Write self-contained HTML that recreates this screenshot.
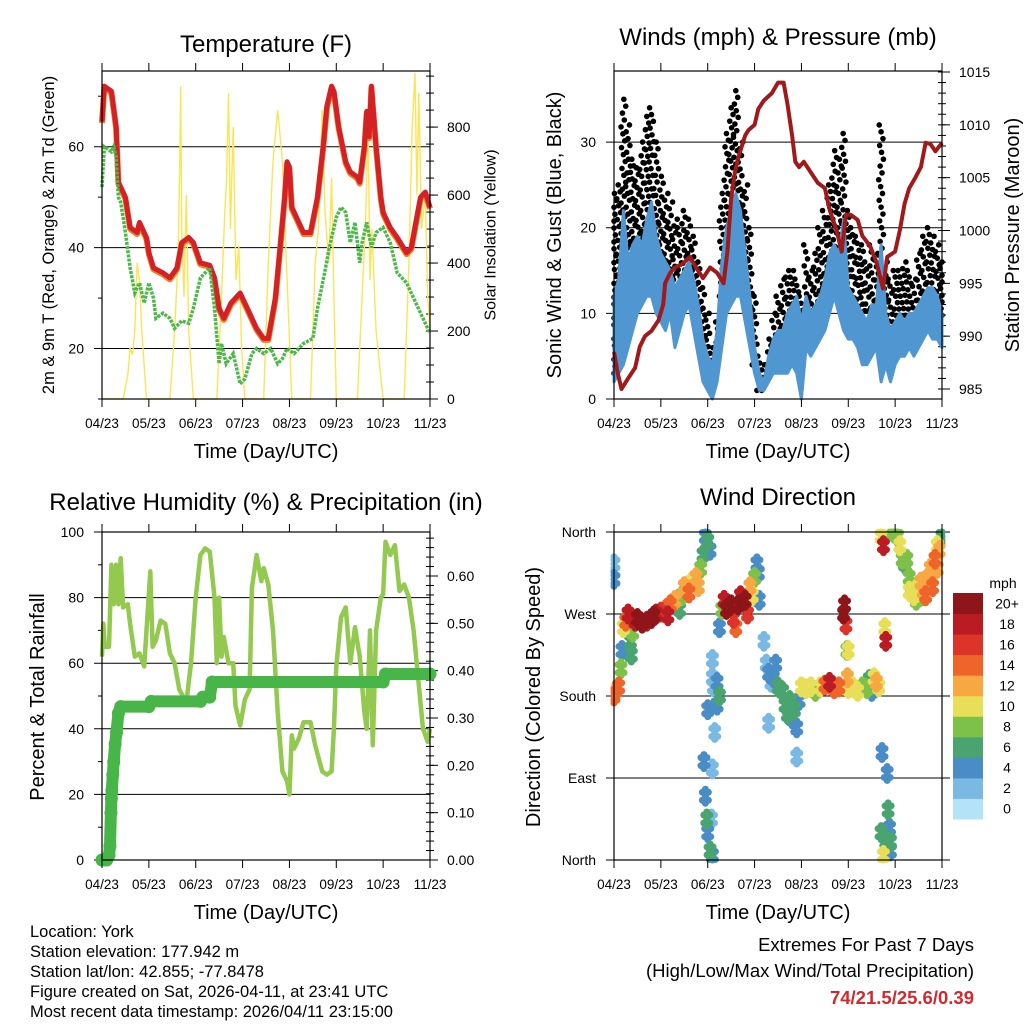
<!DOCTYPE html>
<html><head><meta charset="utf-8"><style>
html,body{margin:0;padding:0;background:#fff;}
svg{display:block;font-family:"Liberation Sans",sans-serif;}
</style></head><body>
<svg id="root" width="1024" height="1024" viewBox="0 0 1024 1024" xmlns="http://www.w3.org/2000/svg">
<rect width="1024" height="1024" fill="#fff"/>
<text x="266" y="52" font-size="24" text-anchor="middle">Temperature (F)</text>
<text x="778" y="45" font-size="24" text-anchor="middle">Winds (mph) &amp; Pressure (mb)</text>
<text x="266" y="510" font-size="24" text-anchor="middle">Relative Humidity (%) &amp; Precipitation (in)</text>
<text x="778" y="505" font-size="24" text-anchor="middle">Wind Direction</text>
<text transform="translate(49,235) rotate(-90)" font-size="16.5" text-anchor="middle" dominant-baseline="central">2m &amp; 9m T (Red, Orange) &amp; 2m Td (Green)</text>
<text transform="translate(491,235) rotate(-90)" font-size="16" text-anchor="middle" dominant-baseline="central">Solar Insolation (Yellow)</text>
<text transform="translate(555,235) rotate(-90)" font-size="20" text-anchor="middle" dominant-baseline="central">Sonic Wind &amp; Gust (Blue, Black)</text>
<text transform="translate(1013,235) rotate(-90)" font-size="20" text-anchor="middle" dominant-baseline="central">Station Pressure (Maroon)</text>
<text transform="translate(38,697) rotate(-90)" font-size="20" text-anchor="middle" dominant-baseline="central">Percent &amp; Total Rainfall</text>
<text transform="translate(534,697) rotate(-90)" font-size="20" text-anchor="middle" dominant-baseline="central">Direction (Colored By Speed)</text>
<g font-size="16.5">
<text x="30" y="937">Location: York</text>
<text x="30" y="957">Station elevation: 177.942 m</text>
<text x="30" y="977">Station lat/lon: 42.855; -77.8478</text>
<text x="30" y="997">Figure created on Sat, 2026-04-11, at 23:41 UTC</text>
<text x="30" y="1017">Most recent data timestamp: 2026/04/11 23:15:00</text>
</g>
<g font-size="18.5" text-anchor="end">
<text x="974" y="951">Extremes For Past 7 Days</text>
<text x="974" y="977">(High/Low/Max Wind/Total Precipitation)</text>
<text x="974" y="1004" fill="#d02a2f" font-weight="bold">74/21.5/25.6/0.39</text>
</g>
<g id="charts"></g>
</svg>
<script>
// ---------- DATA ----------
const monthLabels = ["04/23","05/23","06/23","07/23","08/23","09/23","10/23","11/23"];
const tempTicks = [20,40,60];
const solarTicks = [0,200,400,600,800];
const windTicks = [0,10,20,30];
const pressTicks = [985,990,995,1000,1005,1010,1015];
const rhTicks = [0,20,40,60,80,100];
const precipTicks = [0,0.1,0.2,0.3,0.4,0.5,0.6];
const dirTicks = ["North","East","South","West","North"];
const speedBins = ["0","2","4","6","8","10","12","14","16","18","20+"];
const speedColors = ["#b4e3f8","#7ab9e3","#4a8dc6","#49a470","#7dc14b","#e6df57","#f7a842","#ef6429","#dd3429","#bb1c23","#8e1519"];

const tempRed = [[0,65],[0.05,72],[0.2,71],[0.3,64],[0.35,53],[0.5,50],[0.6,44],[0.75,43],[0.8,45],[0.95,42],[1.0,39],[1.1,36],[1.3,35],[1.45,34],[1.6,36],[1.7,41],[1.85,42],[1.95,41],[2.1,37],[2.3,36.5],[2.4,34],[2.5,28],[2.6,26],[2.75,29],[2.95,31],[3.1,28],[3.3,24],[3.45,22],[3.55,22],[3.7,30],[3.8,40],[3.9,50],[3.95,57],[4.0,56],[4.05,48],[4.15,46],[4.3,43],[4.45,43],[4.6,50],[4.72,60],[4.8,68],[4.9,72],[4.95,71],[5.05,64],[5.2,57],[5.3,55],[5.45,54],[5.5,53],[5.6,60],[5.65,67],[5.7,62],[5.75,72],[5.85,60],[5.95,50],[6.0,47],[6.15,44],[6.3,42],[6.5,39],[6.6,40],[6.7,45],[6.8,50],[6.9,51],[7.0,48]];
const tempDew = [[0,52],[0.05,60],[0.2,59],[0.25,60],[0.3,58],[0.35,50],[0.4,49],[0.5,43],[0.6,36],[0.7,31],[0.8,33],[0.9,29],[1.0,33],[1.1,30],[1.15,26],[1.3,27],[1.45,26],[1.55,24],[1.7,25.5],[1.85,25],[1.95,28],[2.1,34],[2.2,35],[2.3,36],[2.4,28],[2.5,17],[2.55,21],[2.65,17],[2.8,19],[2.95,13],[3.05,14],[3.2,19],[3.3,20],[3.45,19],[3.6,20],[3.75,17],[3.85,18],[3.95,20],[4.1,19],[4.3,21],[4.5,22],[4.6,28],[4.75,35],[4.85,40],[5.0,46],[5.1,48],[5.2,47],[5.3,41],[5.4,45],[5.5,37],[5.55,41],[5.65,45],[5.75,40],[5.85,43],[6.0,44],[6.15,41],[6.3,35],[6.5,33],[6.7,29],[6.9,25],[7.0,23]];
const solar = [[0,0],[0.45,0],[0.55,70],[0.6,150],[0.65,130],[0.7,200],[0.75,400],[0.8,350],[0.85,200],[0.95,0],[1.45,0],[1.55,200],[1.62,400],[1.66,700],[1.68,920],[1.7,500],[1.75,300],[1.8,600],[1.85,200],[1.95,0],[2.45,0],[2.55,300],[2.62,550],[2.66,650],[2.7,900],[2.74,500],[2.8,800],[2.86,350],[2.92,450],[2.98,150],[3.05,0],[3.45,0],[3.55,400],[3.65,700],[3.75,850],[3.85,700],[3.95,350],[4.05,0],[4.45,0],[4.55,400],[4.62,500],[4.7,850],[4.76,550],[4.84,400],[4.9,650],[4.95,300],[5.0,0],[5.45,0],[5.55,300],[5.62,500],[5.68,800],[5.72,350],[5.76,500],[5.85,200],[6.0,0],[6.45,0],[6.55,400],[6.62,800],[6.68,960],[6.72,600],[6.76,900],[6.82,500],[6.9,600],[6.95,300],[7.0,200]];

const windDays = [0,0.1,0.2,0.3,0.4,0.5,0.6,0.7,0.8,0.9,1.0,1.1,1.2,1.3,1.4,1.5,1.6,1.7,1.8,1.9,2.0,2.1,2.2,2.3,2.4,2.5,2.6,2.7,2.8,2.9,3.0,3.1,3.2,3.3,3.4,3.5,3.6,3.7,3.8,3.9,4.0,4.1,4.2,4.3,4.4,4.5,4.6,4.7,4.8,4.9,5.0,5.1,5.2,5.3,5.4,5.5,5.6,5.7,5.8,5.9,6.0,6.1,6.2,6.3,6.4,6.5,6.6,6.7,6.8,6.9,7.0];
const windLo = [2,3,4,6,8,10,11,12,12,10,9,8,10,6,8,10,11,8,5,2,1,0,2,6,10,11,12,12,9,6,3,1,1,2,3,3,3,3,4,3,0,6,5,6,7,8,10,12,10,8,7,7,6,4,4,5,6,2,4,2,4,5,5,6,5,6,7,8,7,7,6];
const windHi = [12,14,22,16,18,19,18,21,23,19,17,16,15,13,14,15,16,14,11,7,5,4,8,16,20,22,24,22,17,12,6,3,2,5,7,8,8,10,11,12,9,12,10,11,12,14,17,18,17,21,13,12,11,10,9,11,11,18,10,8,9,10,9,10,10,11,12,13,13,12,10];
const gustLo = [3,8,14,16,18,17,18,19,19,16,14,13,12,10,11,12,13,11,8,5,3,3,5,12,17,20,22,19,14,10,4,1,1,4,5,6,7,8,8,8,3,9,8,9,11,13,15,17,16,14,12,11,10,8,7,9,10,8,9,5,9,9,9,9,9,10,11,12,12,11,9];
const gustHi = [24,25,35,32,28,27,30,33,34,30,26,24,23,21,20,22,21,19,16,13,10,6,9,24,31,34,36,30,25,20,12,5,4,7,10,12,14,15,15,14,12,18,15,17,20,22,25,29,28,31,22,20,19,18,16,18,17,32,16,14,15,15,16,15,14,17,19,20,19,18,16];
const pressDays = [0,0.08,0.16,0.3,0.45,0.55,0.66,0.8,0.95,1.05,1.09,1.2,1.3,1.45,1.62,1.75,1.9,2.05,2.2,2.34,2.42,2.5,2.58,2.66,2.8,2.87,3.0,3.08,3.2,3.37,3.5,3.62,3.7,3.8,3.87,3.95,4.05,4.2,4.35,4.5,4.6,4.75,4.86,4.95,5.05,5.2,5.3,5.47,5.6,5.74,5.83,6.0,6.1,6.2,6.3,6.43,6.55,6.65,6.75,6.86,7.0];
const pressVals = [988.5,986.5,985,986,987,989,990,990.5,991.5,993,995,996,996.5,996.8,997.5,996.5,995.5,996.5,996,995,998,1003,1005.5,1007,1009,1009.5,1010,1011.5,1012.3,1013,1014,1014,1012,1009,1006.5,1006,1006.5,1005.5,1004.5,1004,1002,1000,998,1001.5,1001.5,1001,999.5,998.5,997,994.5,997.5,998,1000,1002.5,1004,1005,1006,1008.3,1008.2,1007.5,1008.3];

const rh = [[0,62],[0.03,72],[0.06,65],[0.15,65],[0.2,90],[0.25,78],[0.3,90],[0.35,78],[0.4,92],[0.45,77],[0.55,78],[0.6,72],[0.7,62],[0.8,63],[0.9,59],[0.95,70],[1.03,88],[1.08,65],[1.15,67],[1.25,73],[1.35,72],[1.45,63],[1.55,60],[1.65,52],[1.8,48],[1.9,60],[2.0,80],[2.1,93],[2.2,95],[2.3,94],[2.4,80],[2.45,60],[2.5,80],[2.55,62],[2.6,68],[2.7,60],[2.8,60],[2.85,47],[2.95,41],[3.05,49],[3.15,52],[3.2,83],[3.25,88],[3.3,93],[3.4,85],[3.45,89],[3.55,84],[3.65,70],[3.75,45],[3.85,27],[3.95,24],[4.0,20],[4.05,38],[4.1,34],[4.2,37],[4.3,42],[4.45,42],[4.55,35],[4.7,27],[4.8,26],[4.9,27],[4.95,40],[5.0,59],[5.1,74],[5.2,77],[5.3,60],[5.4,71],[5.5,62],[5.6,45],[5.65,40],[5.72,70],[5.78,35],[5.85,70],[5.95,80],[6.0,81],[6.05,97],[6.15,93],[6.25,96],[6.35,82],[6.45,84],[6.55,80],[6.65,70],[6.75,55],[6.85,40],[6.95,36],[7.0,40]];
const precip = [[0,0],[0.05,0],[0.1,0],[0.15,0.01],[0.17,0.03],[0.19,0.1],[0.2,0.13],[0.21,0.147],[0.23,0.18],[0.25,0.207],[0.28,0.245],[0.31,0.27],[0.35,0.31],[0.4,0.324],[1.0,0.324],[1.05,0.335],[2.1,0.335],[2.15,0.344],[2.3,0.344],[2.35,0.376],[6.0,0.376],[6.05,0.393],[7.0,0.393]];

// [day, direction deg (0/360=N, 90=E, 180=S, 270=W), speed mph]
const windDir = [[0,180,13],[0.02,185,12],[0,308,3],[0,325,2],[0.1,190,13],[0.15,210,7],[0.17,230,4],[0.2,255,10],[0.25,262,14],[0.3,270,17],[0.35,240,6],[0.37,225,6],[0.4,250,7],[0.45,262,18],[0.5,265,19],[0.6,260,20],[0.7,262,18],[0.8,265,19],[0.85,268,20],[0.9,270,17],[1.0,272,16],[1.1,275,14],[1.15,268,18],[1.2,280,13],[1.3,285,11],[1.4,275,6],[1.45,290,7],[1.5,300,12],[1.6,293,13],[1.65,305,10],[1.75,310,11],[1.8,300,12],[1.85,320,7],[1.9,335,6],[1.95,355,4],[2.0,350,6],[2.05,340,3],[2.0,165,3],[2.1,200,1],[2.12,190,2],[2.1,220,2],[2.2,195,4],[2.25,180,6],[1.92,108,4],[1.95,70,4],[1.98,45,6],[2.0,30,4],[2.05,10,6],[2.1,5,3],[2.08,45,1],[2.2,170,3],[2.15,140,1],[2.1,100,1],[2.35,285,18],[2.4,275,20],[2.5,280,20],[2.55,265,16],[2.6,255,14],[2.65,280,20],[2.7,290,18],[2.8,285,20],[2.85,270,15],[2.9,300,11],[2.95,290,10],[3.0,310,8],[3.05,325,4],[3.08,315,4],[2.3,275,8],[2.25,255,3],[3.1,285,4],[3.2,240,2],[3.25,215,2],[3.3,205,3],[3.4,200,3],[3.45,215,3],[3.5,190,6],[3.6,185,6],[3.65,170,5],[3.7,160,6],[3.75,175,5],[3.8,155,4],[3.85,165,6],[3.9,145,4],[3.95,175,4],[3.9,113,2],[3.3,150,2],[3.35,195,2],[4.0,190,10],[4.1,188,10],[4.2,190,9],[4.3,185,8],[4.4,190,10],[4.5,192,14],[4.6,195,18],[4.7,188,13],[4.8,190,14],[4.9,270,20],[4.92,280,19],[4.95,258,16],[4.97,230,8],[5.0,230,10],[4.98,200,12],[5.0,188,9],[5.1,190,10],[5.2,185,10],[5.3,190,8],[5.4,188,7],[5.45,198,6],[5.5,185,4],[5.55,200,10],[5.6,195,12],[5.65,190,10],[5.7,355,9],[5.75,345,17],[5.8,240,18],[5.78,255,10],[5.72,118,3],[5.7,30,6],[5.75,5,9],[5.8,20,5],[5.85,55,6],[5.88,35,4],[5.9,20,6],[5.83,95,4],[5.9,10,3],[5.95,360,8],[6.05,355,8],[6.1,345,9],[6.15,330,8],[6.2,325,6],[6.25,330,8],[6.3,310,7],[6.35,300,8],[6.4,290,10],[6.45,285,8],[6.5,300,10],[6.55,305,12],[6.6,295,11],[6.65,290,14],[6.7,310,12],[6.75,320,12],[6.8,300,13],[6.85,330,14],[6.9,345,10],[6.95,340,12],[7.0,355,6],[6.9,320,12],[6.6,290,8],[6.3,295,10]];

// ---------- HELPERS ----------
const NS = "http://www.w3.org/2000/svg";
const root = document.getElementById("charts");
function mk(tag, attrs, parent) {
  const e = document.createElementNS(NS, tag);
  for (const k in attrs) e.setAttribute(k, attrs[k]);
  (parent || root).appendChild(e);
  return e;
}
function lin(d0, d1, r0, r1) { return v => r0 + (v - d0) * (r1 - r0) / (d1 - d0); }
function pathFrom(pts) { return pts.map((p, i) => (i ? "L" : "M") + p[0].toFixed(1) + "," + p[1].toFixed(1)).join(""); }

function frame(g, P) {
  const fr = mk("rect", {x: P.x0, y: P.y0, width: P.x1 - P.x0, height: P.y1 - P.y0, fill: "none", stroke: "#000", "stroke-width": 1.2}, g);
  
  
  const xs = lin(0, 7, P.x0, P.x1);
  monthLabels.forEach((lab, i) => {
    const x = xs(i);
    const t1 = mk("line", {x1: x, x2: x, y1: P.y0 - 8, y2: P.y0, stroke: "#000", "stroke-width": 1}, g);
    
    
    const t2 = mk("line", {x1: x, x2: x, y1: P.y1, y2: P.y1 + 8, stroke: "#000", "stroke-width": 1}, g);
    
    
    const tx = mk("text", {x: x, y: P.y1 + 29, "font-size": 13.5, "text-anchor": "middle"}, g);
    tx.textContent = lab;
    
    
  });
  const xt = mk("text", {x: (P.x0 + P.x1) / 2, y: P.y1 + 59, "font-size": 20, "text-anchor": "middle"}, g);
  xt.textContent = "Time (Day/UTC)";
  
  
}
function leftAxis(g, P, ticks, ys, fmt, gridRight) {
  ticks.forEach(v => {
    const y = ys(v);
    const ln = mk("line", {x1: P.x0 - 8, x2: gridRight, y1: y, y2: y, stroke: "#000", "stroke-width": 1}, g);
    
    
    const tx = mk("text", {x: P.x0 - 18, y: y + 5, "font-size": 14, "text-anchor": "end"}, g);
    tx.textContent = fmt(v);
    
    
  });
}
function minorLeft(g, P, vals, ys) {
  vals.forEach(v => {
    const ln = mk("line", {x1: P.x0 - 4, x2: P.x0, y1: ys(v), y2: ys(v), stroke: "#000", "stroke-width": 1}, g);
    
    
  });
}
function rightAxis(g, P, ticks, ys, fmt, minors) {
  minors.forEach(v => {
    const ln = mk("line", {x1: P.x1 - 4, x2: P.x1 + 4, y1: ys(v), y2: ys(v), stroke: "#000", "stroke-width": 1}, g);
    
    
  });
  ticks.forEach(v => {
    const y = ys(v);
    const ln = mk("line", {x1: P.x1, x2: P.x1 + 8, y1: y, y2: y, stroke: "#000", "stroke-width": 1}, g);
    
    
    const tx = mk("text", {x: P.x1 + 17, y: y + 5, "font-size": 14}, g);
    tx.textContent = fmt(v);
    
    
  });
}
function range(a, b, s) { const r = []; for (let v = a; v <= b + 1e-9; v += s) r.push(+v.toFixed(4)); return r; }

// ---------- TEMPERATURE ----------
(function () {
  const P = {x0: 102, x1: 430, y0: 71, y1: 399};
  const g = mk("g", {});
  
  
  const xs = lin(0, 7, P.x0, P.x1), ys = lin(10, 75, P.y1, P.y0), ss = lin(0, 965, P.y1, P.y0);
  leftAxis(g, P, tempTicks, ys, v => v, P.x1);
  minorLeft(g, P, [10, 30, 50, 70], ys);
  rightAxis(g, P, solarTicks, ss, v => v, range(0, 950, 50));
  const sp = mk("path", {d: pathFrom(solar.map(p => [xs(p[0]), ss(p[1])])), fill: "none", stroke: "#fde356", "stroke-width": 1.4}, g);
  
  
  const op = mk("path", {d: pathFrom(tempRed.map(p => [xs(p[0]), ys(p[1]) + 1.5])), fill: "none", stroke: "#f47e20", "stroke-width": 6, "stroke-linejoin": "round"}, g);
  
  
  const rp = mk("path", {d: pathFrom(tempRed.map(p => [xs(p[0]), ys(p[1])])), fill: "none", stroke: "#d42027", "stroke-width": 5, "stroke-linejoin": "round"}, g);
  
  
  const gp = mk("path", {d: pathFrom(tempDew.map(p => [xs(p[0]), ys(p[1])])), fill: "none", stroke: "#4cb848", "stroke-width": 3.5, "stroke-dasharray": "3 1.2"}, g);
  
  
  frame(g, P);
})();

// ---------- WINDS ----------
(function () {
  const P = {x0: 614, x1: 942, y0: 71, y1: 399};
  const g = mk("g", {});
  
  
  const xs = lin(0, 7, P.x0, P.x1), ys = lin(0, 38.3, P.y1, P.y0), ps = lin(985, 1015, 389, 72);
  leftAxis(g, P, windTicks, ys, v => v, P.x1);
  rightAxis(g, P, pressTicks, ps, v => v, range(985, 1015, 1));
  windDays.forEach((d, i) => {
    const n = Math.max(3, Math.round((gustHi[i] - gustLo[i]) / 0.8));
    for (let k = 0; k <= n; k++) {
      const v = gustLo[i] + (gustHi[i] - gustLo[i]) * k / n;
      const off = (((k * 7) % 11) - 5) * 0.01;
      const c = mk("circle", {cx: xs(Math.min(7, Math.max(0, d + off))), cy: ys(v), r: 2.8, fill: "#000"}, g);
      
      
    }
  });
  const up = windDays.map((d, i) => [xs(d), ys(windHi[i])]);
  const dn = windDays.map((d, i) => [xs(d), ys(windLo[i])]).reverse();
  const band = mk("path", {d: pathFrom(up.concat(dn)) + "Z", fill: "#5096d0", stroke: "#5096d0", "stroke-width": 3, "stroke-linejoin": "round"}, g);
  
  
  const pp = mk("path", {d: pathFrom(pressDays.map((d, i) => [xs(d), ps(pressVals[i])])), fill: "none", stroke: "#a01a1c", "stroke-width": 4, "stroke-linejoin": "round"}, g);
  
  
  frame(g, P);
})();

// ---------- HUMIDITY ----------
(function () {
  const P = {x0: 102, x1: 430, y0: 532, y1: 860};
  const g = mk("g", {});
  
  
  const xs = lin(0, 7, P.x0, P.x1), ys = lin(0, 100, P.y1, P.y0), qs = lin(0, 0.6, 860, 576);
  leftAxis(g, P, rhTicks.filter(v => v > 0 && v < 100), ys, v => v, P.x1);
  [0, 100].forEach(v => {
    const ln = mk("line", {x1: P.x0 - 8, x2: P.x0, y1: ys(v), y2: ys(v), stroke: "#000"}, g);
    
    
    const tx = mk("text", {x: P.x0 - 18, y: ys(v) + 5, "font-size": 14, "text-anchor": "end"}, g);
    tx.textContent = v;
    
    
  });
  minorLeft(g, P, [10, 30, 50, 70, 90], ys);
  rightAxis(g, P, precipTicks, qs, v => v.toFixed(2), range(0, 0.68, 0.02));
  const rp = mk("path", {d: pathFrom(rh.map(p => [xs(p[0]), ys(p[1])])), fill: "none", stroke: "#93c94f", "stroke-width": 4.5, "stroke-linejoin": "round"}, g);
  
  
  const pl = mk("path", {d: pathFrom(precip.map(p => [xs(p[0]), qs(p[1])])), fill: "none", stroke: "#48b549", "stroke-width": 12, "stroke-linecap": "round", "stroke-linejoin": "round"}, g);
  
  
  precip.forEach(p => {
    const c = mk("circle", {cx: xs(p[0]), cy: qs(p[1]), r: 6.5, fill: "#48b549"}, g);
    
    
  });
  frame(g, P);
})();

// ---------- WIND DIRECTION ----------
(function () {
  const P = {x0: 614, x1: 942, y0: 532, y1: 860};
  const g = mk("g", {});
  
  
  const xs = lin(0, 7, P.x0, P.x1), ys = lin(0, 360, P.y1, P.y0);
  dirTicks.forEach((lab, i) => {
    const y = ys(i * 90);
    const ln = mk("line", {x1: P.x0 - 8, x2: 950, y1: y, y2: y, stroke: "#000", "stroke-width": 1}, g);
    
    
    const tx = mk("text", {x: P.x0 - 18, y: y + 5, "font-size": 14, "text-anchor": "end"}, g);
    tx.textContent = lab;
    
    
  });
  const offs = [[0,0],[-3,-4],[3,4],[-3,4],[3,-4],[0,-7],[0,7]];
  const sorted = windDir.slice().sort((a, b) => a[2] - b[2]);
  sorted.forEach(p => {
    const bin = Math.min(10, Math.floor((p[2] + 1) / 2));
    offs.forEach(o => {
      const c = mk("circle", {cx: Math.min(P.x1, Math.max(P.x0, xs(p[0]) + o[0])), cy: Math.min(P.y1, Math.max(P.y0, ys(p[1]) + o[1])), r: 3.5, fill: speedColors[bin]}, g);
      
      
    });
  });
  frame(g, P);
  const lg = mk("g", {}, g);
  
  
  const mph = mk("text", {x: 1003, y: 588, "font-size": 14, "text-anchor": "middle"}, lg);
  mph.textContent = "mph";
  
  
  const h = (819 - 593) / speedBins.length;
  speedBins.forEach((lab, i) => {
    const y = 819 - (i + 1) * h;
    const r = mk("rect", {x: 953, y: y, width: 30, height: h + 0.5, fill: speedColors[i]}, lg);
    
    
    const t = mk("text", {x: 1007, y: y + h / 2 + 5, "font-size": 14, "text-anchor": "middle"}, lg);
    t.textContent = lab;
    
    
  });
})();
</script>
</body></html>
